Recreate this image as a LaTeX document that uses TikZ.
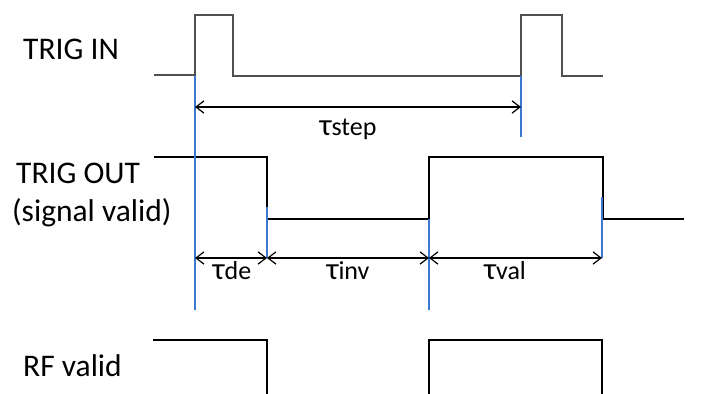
\documentclass[tikz,border=0pt]{standalone}
\usepackage{fontspec}
\setmainfont{Carlito}
\usetikzlibrary{arrows.meta}
\definecolor{markblue}{RGB}{60,120,210}
\definecolor{wavegray}{RGB}{80,80,80}
\newcommand{\tauchar}{{\fontsize{31}{30}\selectfont τ}}

\begin{document}
\begin{tikzpicture}[x=10pt,y=10pt]
\tikzstyle{every node}+=[inner sep=0pt]
\tikzstyle{wave}=[wavegray, line width=1.8pt]
\tikzstyle{tmark}=[markblue, line width=1.2pt]
\tikzstyle{tspan}=[black, line width=1.2pt, {Straight Barb[angle=75:10pt]}-{Straight Barb[angle=75:10pt]}]
\tikzstyle{signame}=[font=\fontsize{31.5}{36}\selectfont, anchor=base west]
\tikzstyle{taulabel}=[font=\fontsize{26}{30}\selectfont, anchor=base]
\useasboundingbox (0,0) rectangle (71.3,-39.4);
% signal names
\node [signame] (trigin) at (2.3,-5.9) {TRIG IN};
\node [signame] (trigout) at (1.6,-18.3) {TRIG OUT};
\node [signame] (sigvalid) at (1.2,-22.1) {(signal valid)};
\node [signame] (rfvalid) at (2.3,-37.6) {RF valid};
% waveforms
\draw [wave] (15.4,-7.5) -- (19.5,-7.5) -- (19.5,-1.5) -- (23.3,-1.5) -- (23.3,-7.6) -- (52.1,-7.6) -- (52.1,-1.5) -- (56.2,-1.5) -- (56.2,-7.6) -- (60.3,-7.6);
\draw [wave, black] (15.4,-15.7) -- (26.7,-15.7) -- (26.7,-21.9) -- (42.9,-21.9) -- (42.9,-15.7) -- (60.3,-15.7) -- (60.3,-21.9) -- (68.4,-21.9);
\draw [wave, black] (15.3,-34.0) -- (26.7,-34.0) -- (26.7,-39.6);
\draw [wave, black] (42.9,-39.6) -- (42.9,-34.0) -- (60.2,-34.0) -- (60.2,-39.6);
% time markers
\draw [tmark] (19.5,-7.6) -- (19.5,-31.0);
\draw [tmark] (52.1,-7.6) -- (52.1,-13.7);
\draw [tmark] (26.7,-20.7) -- (26.7,-25.8);
\draw [tmark] (42.9,-21.9) -- (42.9,-31.0);
\draw [tmark] (60.2,-19.7) -- (60.2,-25.8);
% intervals
\coordinate (s0) at (19.5,-10.7);
\coordinate (s1) at (52.1,-10.7);
\coordinate (d0) at (19.5,-25.8);
\coordinate (d1) at (26.7,-25.8);
\coordinate (d2) at (42.9,-25.8);
\coordinate (d3) at (60.2,-25.8);
\draw [tspan] (s0) -- (s1);
\draw [tspan] (d0) -- (d1);
\draw [tspan] (d1) -- (d2);
\draw [tspan] (d2) -- (d3);
\node [taulabel] (tstep) at (34.8,-13.5) {\tauchar step};
\node [taulabel] (tde) at (23.2,-27.9) {\tauchar de};
\node [taulabel] (tinv) at (34.8,-27.9) {\tauchar inv};
\node [taulabel] (tval) at (50.5,-27.9) {\tauchar val};
\end{tikzpicture}
\end{document}
